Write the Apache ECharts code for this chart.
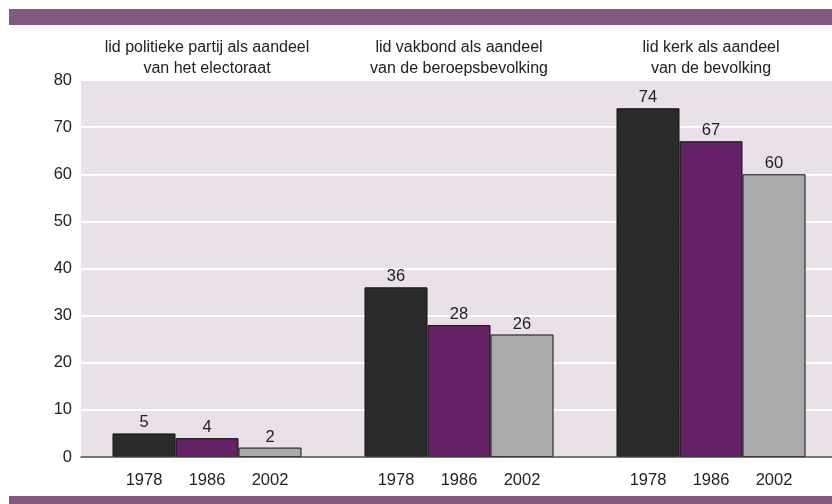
<!DOCTYPE html>
<html>
<head>
    <meta charset="utf-8">
    <title>lidmaatschap</title>
    <style>
        *{ margin:0; padding:0; box-sizing:border-box; }
        html, body, #chart{ width:100%; height:100%; overflow:hidden; background:#fff; }
    </style>
</head>
<body>
    <div id="chart"></div>
    <script src="https://cdn.jsdelivr.net/npm/echarts@6/dist/echarts.min.js"></script>
    <script>
        // groepen (bovenste labels)
        var groups = [
            'lid politieke partij als aandeel\nvan het electoraat',
            'lid vakbond als aandeel\nvan de beroepsbevolking',
            'lid kerk als aandeel\nvan de bevolking'
        ];
        var years = ['1978', '1986', '2002'];
        var v1978 = [5, 36, 74];
        var v1986 = [4, 28, 67];
        var v2002 = [2, 26, 60];
        var yTicks = [0, 80, 10]; // min, max, interval

        var colors = ['#2b2b2b', '#652165', '#aaaaaa'];
        var purple = '#84587f';

        // jaartallen onder de staven: 13 posities, staafmiddens op 1-3, 5-7, 9-11
        var yearSlots = [''];
        groups.forEach(function (g, i) {
            years.forEach(function (y) { yearSlots.push(y); });
            yearSlots.push('');
        });

        var chart = echarts.init(document.getElementById('chart'));

        function barSeries(name, data, idx) {
            return {
                name: name,
                type: 'bar',
                xAxisIndex: 0,
                data: data,
                barWidth: 63,
                barGap: '0%',
                itemStyle: {
                    color: colors[idx],
                    borderColor: '#111',
                    borderWidth: 1
                },
                label: {
                    show: true,
                    position: 'top',
                    distance: 2,
                    color: '#222',
                    fontSize: 16.5,
                    fontFamily: 'Liberation Sans'
                }
            };
        }

        var option = {
            animation: false,
            textStyle: { fontFamily: 'Liberation Sans' },
            grid: {
                left: 81, top: 80, width: 756, bottom: 47,
                outerBoundsMode: 'none',
                containLabel: false,
                show: true,
                backgroundColor: '#e9e0e8',
                borderWidth: 0
            },
            graphic: [
                { type: 'rect', left: 9, top: 9, shape: { width: 823, height: 16 }, style: { fill: purple } },
                { type: 'rect', left: 9, top: 496, shape: { width: 823, height: 8 }, style: { fill: purple } }
            ],
            xAxis: [
                {
                    type: 'category',
                    position: 'top',
                    data: groups,
                    axisLine: { show: false },
                    axisTick: { show: false },
                    axisLabel: {
                        margin: 1,
                        fontSize: 16,
                        lineHeight: 21,
                        color: '#222',
                        interval: 0
                    }
                },
                {
                    type: 'category',
                    position: 'bottom',
                    boundaryGap: false,
                    data: yearSlots,
                    axisLine: { show: true, lineStyle: { color: '#4a4a4a', width: 1.5 } },
                    axisTick: { show: false },
                    splitLine: { show: false },
                    axisLabel: {
                        margin: 15,
                        fontSize: 16.5,
                        color: '#222',
                        interval: 0
                    },
                    z: 5
                }
            ],
            yAxis: {
                type: 'value',
                min: yTicks[0],
                max: yTicks[1],
                interval: yTicks[2],
                axisLine: { show: false },
                axisTick: { show: false },
                axisLabel: { margin: 9, fontSize: 16.5, color: '#222' },
                splitLine: { lineStyle: { color: '#ffffff', width: 2 } }
            },
            series: [
                barSeries(years[0], v1978, 0),
                barSeries(years[1], v1986, 1),
                barSeries(years[2], v2002, 2)
            ]
        };

        chart.setOption(option);
    </script>
</body>
</html>
